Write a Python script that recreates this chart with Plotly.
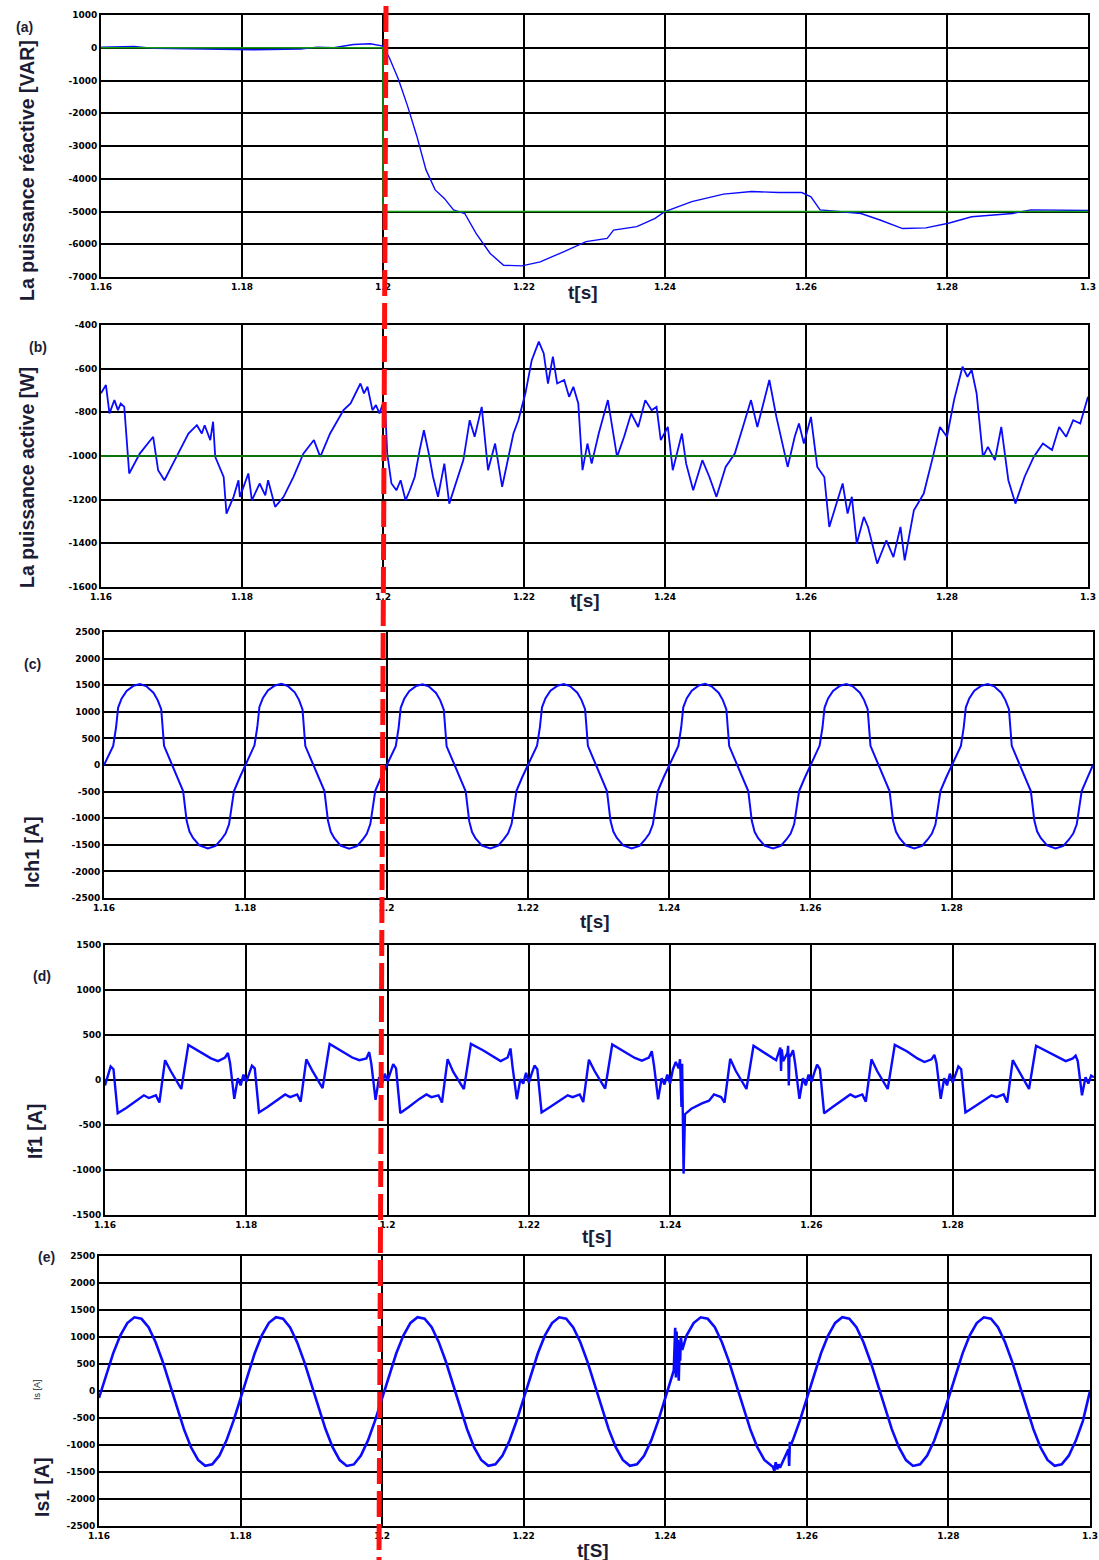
import plotly.graph_objects as go

W, H = 1099, 1560

# ======================= DATA =======================
x_tick_vals = [1.16, 1.18, 1.20, 1.22, 1.24, 1.26, 1.28, 1.30]
x_tick_text = ["1.16", "1.18", "1.2", "1.22", "1.24", "1.26", "1.28", "1.3"]

# (a) reactive power [VAR]  (t, Q)
q_samples = [
    (1.16, 20), (1.1647, 40), (1.1675, -20), (1.1741, -30), (1.1765, -50), (1.1816, -60),
    (1.1883, -40), (1.1907, 20), (1.193, 0), (1.1958, 100), (1.1982, 120), (1.2, 50),
    (1.2009, -306), (1.2022, -970), (1.2035, -1790), (1.2048, -2700), (1.2061, -3730),
    (1.2074, -4340), (1.2087, -4600), (1.21, -4950), (1.2116, -5060), (1.2132, -5670),
    (1.2152, -6280), (1.2171, -6640), (1.2197, -6660), (1.2223, -6540), (1.2256, -6230),
    (1.2288, -5920), (1.2318, -5820), (1.2327, -5570), (1.236, -5460), (1.2386, -5210),
    (1.2399, -5010), (1.2438, -4700), (1.2483, -4470), (1.2523, -4390), (1.2561, -4420),
    (1.2594, -4420), (1.2607, -4550), (1.262, -4950), (1.2646, -5000), (1.2678, -5060),
    (1.2705, -5260), (1.2737, -5520), (1.277, -5500), (1.2802, -5360), (1.2835, -5160),
    (1.2867, -5110), (1.2893, -5060), (1.2919, -4950), (1.2971, -4970), (1.3, -4970),
]
q_ref_t = [1.16, 1.2, 1.2, 1.3]
q_ref_v = [0, 0, -5000, -5000]
q_ticks = [1000, 0, -1000, -2000, -3000, -4000, -5000, -6000, -7000]

# (b) active power [W]  (t, P)
p_samples = [
    (1.16, -713), (1.1607, -675), (1.1612, -805), (1.1619, -744), (1.1624, -790), (1.1628, -760),
    (1.1633, -775), (1.164, -1080), (1.1655, -989), (1.1674, -912), (1.1681, -1065), (1.169, -1111),
    (1.1707, -1004), (1.1724, -897), (1.1736, -859), (1.1743, -897), (1.1747, -859), (1.1755, -927),
    (1.1759, -843), (1.1762, -1004), (1.1774, -1096), (1.1778, -1264), (1.1788, -1187), (1.1795, -1111),
    (1.1797, -1187), (1.1809, -1080), (1.1814, -1203), (1.1825, -1126), (1.1833, -1180), (1.1837, -1111),
    (1.1847, -1233), (1.1859, -1187), (1.1873, -1096), (1.1887, -989), (1.1902, -927), (1.1911, -1004),
    (1.1925, -897), (1.1944, -790), (1.1954, -759), (1.1968, -668), (1.1973, -713), (1.1978, -683),
    (1.1985, -790), (1.199, -767), (1.1995, -805), (1.2, -759),
    (1.2003, -775), (1.2006, -989), (1.2012, -1126), (1.2019, -1157), (1.2025, -1111), (1.2032, -1203),
    (1.2038, -1157), (1.2045, -1096), (1.2052, -973), (1.2058, -882), (1.2065, -989), (1.2071, -1096),
    (1.2078, -1187), (1.2087, -1035), (1.2094, -1218), (1.21, -1157), (1.2114, -1019), (1.2123, -836),
    (1.213, -912), (1.214, -775), (1.2149, -1065), (1.2159, -943), (1.2169, -1141), (1.2185, -897),
    (1.2192, -836), (1.2202, -713), (1.2211, -561), (1.2221, -476), (1.2228, -530), (1.2234, -668),
    (1.2241, -545), (1.2247, -668), (1.2257, -652), (1.2264, -729), (1.227, -683), (1.2277, -759),
    (1.2283, -1065), (1.229, -943), (1.2296, -1035), (1.2306, -897), (1.2319, -744), (1.2332, -1004),
    (1.2342, -912), (1.2352, -805), (1.2362, -867), (1.2372, -744), (1.2381, -790), (1.2388, -775),
    (1.2394, -927), (1.2404, -867), (1.2411, -1065), (1.2424, -897), (1.243, -1035), (1.244, -1157),
    (1.2453, -1019), (1.2463, -1096), (1.2473, -1187), (1.2486, -1050), (1.2499, -989), (1.2512, -851),
    (1.2522, -744), (1.2531, -867), (1.2548, -652), (1.2558, -821), (1.2567, -943), (1.2574, -1050),
    (1.2584, -912), (1.259, -851), (1.2597, -943), (1.2607, -821), (1.2616, -1050), (1.2626, -1096),
    (1.2633, -1325), (1.2642, -1233), (1.2652, -1126), (1.2659, -1264), (1.2665, -1187), (1.2672, -1402),
    (1.2682, -1279), (1.2688, -1325), (1.2701, -1493), (1.2714, -1386), (1.2724, -1463), (1.2734, -1325),
    (1.274, -1478), (1.2753, -1249), (1.2767, -1172), (1.278, -1004), (1.279, -867), (1.28, -912),
    (1.281, -744), (1.2822, -591), (1.2829, -637), (1.2835, -606), (1.2842, -713), (1.2851, -1004),
    (1.2858, -958), (1.2868, -1019), (1.2877, -867), (1.2887, -1111), (1.2897, -1218), (1.291, -1096),
    (1.2923, -1004), (1.2936, -943), (1.2949, -973), (1.2959, -867), (1.2969, -912), (1.2979, -836),
    (1.2989, -851), (1.3, -729),
]
p_ref_t = [1.16, 1.3]
p_ref_v = [-1000, -1000]
p_ticks = [-400, -600, -800, -1000, -1200, -1400, -1600]

# (c) load current Ich1 [A]: one value list per 20 ms period
cycle_starts = [1.16, 1.18, 1.20, 1.22, 1.24, 1.26, 1.28]
ich_dt = [0, .0007, .0013, .0017, .0020, .0025, .0032, .0042, .0051, .0060, .0070, .0076, .0081, .0085,
          .0091, .0098, .0105, .0112, .0117, .0121, .0126, .0135, .0147, .0158, .0166, .0172, .0177,
          .0181, .0184, .0192]
ich_cycles = [
    [0, 200, 360, 700, 1080, 1250, 1390, 1490, 1520, 1480, 1360, 1220, 1050, 360, 170, -50, -270, -490,
     -1050, -1250, -1370, -1510, -1570, -1520, -1400, -1290, -1115, -800, -490, -240],
    [0, 210, 370, 710, 1090, 1260, 1400, 1495, 1525, 1485, 1365, 1225, 1045, 355, 165, -45, -265, -485,
     -1045, -1255, -1375, -1515, -1575, -1525, -1405, -1295, -1110, -795, -485, -235],
    [-10, 195, 355, 695, 1075, 1245, 1385, 1485, 1515, 1475, 1355, 1215, 1040, 350, 175, -55, -275, -495,
     -1055, -1260, -1380, -1515, -1570, -1515, -1395, -1285, -1105, -790, -480, -230],
    [0, 205, 365, 705, 1085, 1255, 1395, 1490, 1520, 1480, 1360, 1220, 1050, 360, 170, -50, -270, -490,
     -1050, -1250, -1370, -1510, -1570, -1520, -1400, -1290, -1115, -800, -490, -240],
    [0, 200, 360, 700, 1085, 1255, 1395, 1495, 1525, 1480, 1360, 1220, 1045, 355, 170, -50, -270, -490,
     -1050, -1255, -1375, -1515, -1570, -1520, -1400, -1290, -1110, -800, -490, -240],
    [0, 205, 365, 700, 1080, 1250, 1390, 1490, 1520, 1480, 1360, 1220, 1050, 360, 170, -50, -270, -490,
     -1050, -1250, -1370, -1510, -1570, -1520, -1400, -1290, -1115, -800, -490, -240],
    [0, 200, 360, 705, 1085, 1255, 1395, 1490, 1520, 1480, 1360, 1220, 1050, 360, 170, -50, -270, -490,
     -1050, -1250, -1370, -1510, -1570, -1520, -1400, -1290, -1115, -800, -490, -240],
]
ich_extra = [(1.30, 0)]
ich_ticks = [2500, 2000, 1500, 1000, 500, 0, -500, -1000, -1500, -2000, -2500]

# (d) filter current If1 [A]
if_dt = [0.0000, 0.0004, 0.0008, 0.0012, 0.0018, 0.0030, 0.0045, 0.0055, 0.0062, 0.0072, 0.0077,
         0.0085, 0.0093, 0.0108, 0.0118, 0.0135, 0.0150, 0.0160, 0.0170, 0.0174, 0.0177, 0.0183,
         0.0188, 0.0192, 0.0196]
if_cycles = [
    [-60, 60, 150, 120, -370, -310, -230, -170, -200, -170, -250, 220, 100, -100, 390, 310, 240, 210, 250, 300, 190, -210, 20, -60, 60],
    [-20, 80, 160, 130, -360, -300, -220, -160, -190, -160, -240, 230, 110, -90, 400, 320, 250, 220, 240, 310, 180, -220, 30, -50, 70],
    [-10, 90, 176, 130, -367, -300, -210, -161, -190, -170, -250, 232, 90, -101, 401, 330, 260, 210, 250, 350, 140, -213, 10, -40, 80],
    [-30, 70, 160, 120, -360, -300, -220, -170, -190, -160, -245, 225, 100, -95, 395, 320, 245, 215, 250, 320, 170, -215, 20, -50, 60],
    [-40, 120, 200, 130, -370, -320, -260, -230, -160, -190, -250, 235, 100, -100, 380, 300, 220, 210, 260, 330, 180, -210, 20, -60, 60],
    [-20, 80, 170, 120, -370, -300, -220, -160, -190, -160, -240, 230, 100, -100, 390, 320, 240, 200, 230, 280, 190, -210, 20, -60, 70],
    [-30, 60, 150, 120, -360, -300, -220, -170, -190, -160, -250, 220, 110, -100, 380, 310, 250, 210, 240, 270, 210, -170, 30, -40, 50],
]
if_extra = [
    (1.2414, 230), (1.2416, -300), (1.2417, 180), (1.2419, -1040), (1.2421, -380),
    (1.2556, 360), (1.2557, 100), (1.2558, 340), (1.2566, 300), (1.2567, 380), (1.2568, -60),
    (1.2569, 290), (1.30, 30),
]
if_ticks = [1500, 1000, 500, 0, -500, -1000, -1500]

# (e) source current Is1 [A]: values every 1 ms within each period
is_dt = [0.000, 0.001, 0.002, 0.003, 0.004, 0.005, 0.006, 0.007, 0.008, 0.009,
         0.010, 0.011, 0.012, 0.013, 0.014, 0.015, 0.016, 0.017, 0.018, 0.019]
is_cycles = [
    [-129, 299, 697, 1027, 1258, 1364, 1337, 1180, 904, 545, 129, -303, -707, -1042, -1277, -1385, -1357, -1198, -918, -553],
    [-125, 305, 700, 1030, 1262, 1368, 1340, 1178, 900, 540, 125, -300, -705, -1040, -1280, -1388, -1360, -1195, -915, -550],
    [-128, 300, 698, 1028, 1260, 1366, 1338, 1181, 905, 546, 130, -302, -708, -1043, -1278, -1386, -1356, -1197, -917, -552],
    [-127, 302, 699, 1029, 1259, 1365, 1339, 1179, 903, 544, 128, -304, -706, -1041, -1276, -1384, -1358, -1199, -919, -554],
    [-129, 299, 697, 1027, 1258, 1364, 1337, 1180, 904, 545, 129, -303, -707, -1042, -1277, -1385, -1357, -1198, -918, -553],
    [-126, 301, 698, 1028, 1261, 1367, 1339, 1181, 902, 543, 127, -301, -706, -1041, -1279, -1387, -1359, -1196, -916, -551],
    [-128, 300, 697, 1027, 1259, 1365, 1338, 1180, 904, 545, 129, -303, -707, -1042, -1277, -1385, -1357, -1198, -918, -553],
]
is_extra = [
    (1.2412, 380), (1.2414, 1170), (1.2415, 250), (1.2416, 1100), (1.2417, 350), (1.2418, 950),
    (1.2419, 190), (1.2420, 850), (1.2421, 560), (1.2422, 1000), (1.2424, 760),
    (1.2552, -1400), (1.2554, -1480), (1.2556, -1320), (1.2558, -1450), (1.2562, -1420),
    (1.2574, -1080), (1.2575, -1390), (1.2576, -940), (1.2577, -1010), (1.30, 0),
]
is_ticks = [2500, 2000, 1500, 1000, 500, 0, -500, -1000, -1500, -2000, -2500]


# ======================= BUILD =======================
def split(pairs):
    pairs = sorted(pairs)
    return [p[0] for p in pairs], [p[1] for p in pairs]


def periodic(starts, dts, cycles, extra):
    pts = [(round(s + d, 5), v) for s, vals in zip(starts, cycles) for d, v in zip(dts, vals)]
    return split(pts + list(extra))


q_t, q_v = split(q_samples)
p_t, p_v = split(p_samples)
ich_t, ich_v = periodic(cycle_starts, ich_dt, ich_cycles, ich_extra)
if_t, if_v = periodic(cycle_starts, if_dt, if_cycles, if_extra)
is_t, is_v = periodic(cycle_starts, is_dt, is_cycles, is_extra)

BLUE = "#0a0aff"
GREEN = "#129a12"

# panel boxes in pixels: left, right, top, bottom
boxes = [
    (101, 1088, 15, 277),
    (101, 1088, 325, 587),
    (104, 1093, 632, 898),
    (105, 1094, 945, 1215),
    (99, 1090, 1256, 1526),
]
y_ranges = [(-7000, 1000), (-1600, -400), (-2500, 2500), (-1500, 1500), (-2500, 2500)]
y_tick_lists = [q_ticks, p_ticks, ich_ticks, if_ticks, is_ticks]

fig = go.Figure()

series = [
    (1, q_t, q_v, BLUE, 1.4),
    (1, q_ref_t, q_ref_v, GREEN, 1.6),
    (2, p_t, p_v, BLUE, 1.8),
    (2, p_ref_t, p_ref_v, GREEN, 1.6),
    (3, ich_t, ich_v, BLUE, 2.0),
    (4, if_t, if_v, BLUE, 2.4),
    (5, is_t, is_v, BLUE, 2.6),
]
for k, xs, ys, col, lw in series:
    suffix = "" if k == 1 else str(k)
    fig.add_trace(go.Scatter(x=xs, y=ys, mode="lines", line=dict(color=col, width=lw),
                             xaxis="x" + suffix, yaxis="y" + suffix, showlegend=False,
                             hoverinfo="skip"))

tick_font = dict(family="DejaVu Sans, Liberation Sans, sans-serif", size=9, color="black", weight="bold")
layout_axes = {}
for i, ((l, r, t, b), yr, yt) in enumerate(zip(boxes, y_ranges, y_tick_lists)):
    suffix = "" if i == 0 else str(i + 1)
    layout_axes["xaxis" + suffix] = dict(
        domain=[l / W, r / W], range=[1.16, 1.30], anchor="y" + suffix,
        tickvals=x_tick_vals, ticktext=x_tick_text, tickfont=tick_font,
        showgrid=True, gridcolor="black", gridwidth=2,
        showline=True, linecolor="black", linewidth=2, mirror=True,
        zeroline=False, ticks="", fixedrange=True, automargin=False,
    )
    layout_axes["yaxis" + suffix] = dict(
        domain=[1 - b / H, 1 - t / H], range=list(yr), anchor="x" + suffix,
        tickvals=yt, ticktext=[str(v) for v in yt], tickfont=tick_font,
        showgrid=True, gridcolor="black", gridwidth=2,
        showline=True, linecolor="black", linewidth=2, mirror=True,
        zeroline=False, ticks="", fixedrange=True, automargin=False,
    )

label_color = "#1c1c34"
annots = []


def px_annot(text, x, y, font, angle=0):
    annots.append(dict(text=text, x=x / W, y=1 - y / H, xref="paper", yref="paper",
                       showarrow=False, font=font, textangle=angle,
                       xanchor="center", yanchor="middle"))


title_font = dict(family="Liberation Sans, Arial, sans-serif", size=19, color=label_color, weight="bold")
for txt, x, y in [("t[s]", 583, 292), ("t[s]", 585, 600), ("t[s]", 595, 921),
                  ("t[s]", 597, 1236), ("t[S]", 593, 1550)]:
    px_annot(txt, x, y, title_font)

ylab_font = dict(family="Liberation Sans, Arial, sans-serif", size=19.5, color=label_color, weight="bold")
for txt, x, y in [("La puissance réactive [VAR]", 27, 171), ("La puissance active [W]", 27, 478),
                  ("Ich1 [A]", 32, 852), ("If1 [A]", 35, 1132), ("Is1 [A]", 42, 1487)]:
    px_annot(txt, x, y, ylab_font, angle=-90)

small_font = dict(family="Liberation Sans, Arial, sans-serif", size=14, color=label_color, weight="bold")
for txt, x, y in [("(a)", 24, 27), ("(b)", 38, 347), ("(c)", 32, 664), ("(d)", 42, 976), ("(e)", 46, 1257)]:
    px_annot(txt, x, y, small_font)
px_annot("Is [A]", 37, 1390, dict(family="Liberation Sans, Arial, sans-serif", size=9,
                                      color=label_color), angle=-90)

shapes = [dict(type="line", xref="paper", yref="paper",
               x0=386 / W, y0=1 - 6 / H, x1=379 / W, y1=0,
               line=dict(color="#ff1010", width=5, dash="26px,7px"), layer="above")]

fig.update_layout(
    width=W, height=H, margin=dict(l=0, r=0, t=0, b=0, autoexpand=False),
    paper_bgcolor="white", plot_bgcolor="white",
    showlegend=False, annotations=annots, shapes=shapes,
    **layout_axes,
)

fig.write_html("out.html", config={"displayModeBar": False, "staticPlot": True},
               post_script="document.body.style.margin='0px';document.body.style.overflow='hidden';")
